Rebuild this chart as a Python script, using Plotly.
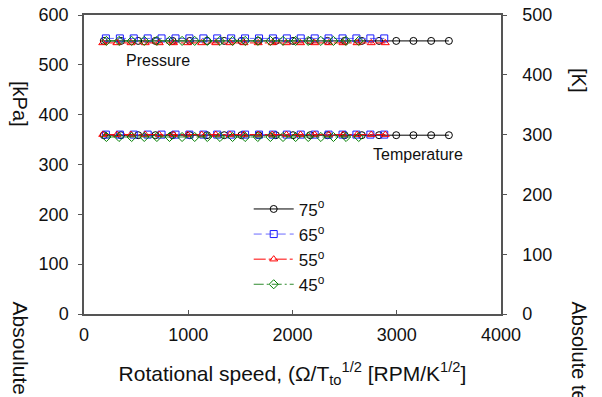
import plotly.graph_objects as go

# ---- data ----
labels = ["75<sup>o</sup>", "65<sup>o</sup>", "55<sup>o</sup>", "45<sup>o</sup>"]

speed_75 = [190, 355, 520, 685, 850, 1015, 1180, 1345, 1510, 1675, 1840,
            2005, 2170, 2335, 2500, 2665, 2830, 2995, 3160, 3330, 3500]
speed_65 = [210, 344, 477, 611, 744, 878, 1011, 1145, 1278, 1412, 1545,
            1679, 1812, 1946, 2079, 2213, 2346, 2480, 2613, 2747, 2880]
speed_55 = [180, 316, 451, 587, 722, 858, 993, 1129, 1264, 1400, 1535,
            1671, 1806, 1942, 2077, 2213, 2348, 2484, 2619, 2755, 2890]
speed_45 = [215, 336, 457, 578, 699, 820, 941, 1062, 1183, 1304, 1425,
            1546, 1667, 1788, 1909, 2030, 2151, 2272, 2393, 2514, 2635]

pressure_75 = [548, 548, 548, 548, 548, 548, 548, 548, 548, 548, 548,
               548, 548, 548, 548, 548, 548, 548, 548, 548, 548]
pressure_65 = [553, 553, 553, 553, 553, 553, 553, 553, 553, 553, 553,
               553, 553, 553, 553, 553, 553, 553, 553, 553, 553]
pressure_55 = [544, 544, 544, 544, 544, 544, 544, 544, 544, 544, 544,
               544, 544, 544, 544, 544, 544, 544, 544, 544, 544]
pressure_45 = [548, 548, 548, 548, 548, 548, 548, 548, 548, 548, 548,
               548, 548, 548, 548, 548, 548, 548, 548, 548, 548]

temperature_75 = [299, 299, 299, 299, 299, 299, 299, 299, 299, 299, 299,
                  299, 299, 299, 299, 299, 299, 299, 299, 299, 299]
temperature_65 = [300, 300, 300, 300, 300, 300, 300, 300, 300, 300, 300,
                  300, 300, 300, 300, 300, 300, 300, 300, 300, 300]
temperature_55 = [300, 300, 300, 300, 300, 300, 300, 300, 300, 300, 300,
                  300, 300, 300, 300, 300, 300, 300, 300, 300, 300]
temperature_45 = [296, 296, 296, 296, 296, 296, 296, 296, 296, 296, 296,
                  296, 296, 296, 296, 296, 296, 296, 296, 296, 296]

x_ticks = [0, 1000, 2000, 3000, 4000]
y_ticks = [0, 100, 200, 300, 400, 500, 600]
y2_ticks = [0, 100, 200, 300, 400, 500]

# ---- styles ----
FONT = "Liberation Sans, Arial, sans-serif"
styles = [
    dict(color="#000000", line_color="#000000", dash="solid", symbol="circle-open"),
    dict(color="#1a1aff", line_color="#6b6bff", dash="8px,4px", symbol="square-open"),
    dict(color="#ff0000", line_color="#ff0000", dash="12px,3px,3px,3px", symbol="triangle-up-open"),
    dict(color="#008000", line_color="#2e8b2e", dash="10px,3px,2px,3px", symbol="diamond-open"),
]

speeds = [speed_75, speed_65, speed_55, speed_45]
pressures = [pressure_75, pressure_65, pressure_55, pressure_45]
temps = [temperature_75, temperature_65, temperature_55, temperature_45]

fig = go.Figure()
for i in range(4):
    st = styles[i]
    fig.add_trace(go.Scatter(
        x=speeds[i], y=pressures[i], name=labels[i], showlegend=True, yaxis="y",
        mode="lines+markers",
        line=dict(color=st["line_color"], width=1, dash=st["dash"]),
        marker=dict(symbol=st["symbol"], size=7, color=st["color"],
                    line=dict(width=1, color=st["color"])),
        legendgroup=str(i)))
for i in range(4):
    st = styles[i]
    fig.add_trace(go.Scatter(
        x=speeds[i], y=temps[i], name=labels[i], showlegend=False, yaxis="y2",
        mode="lines+markers",
        line=dict(color=st["line_color"], width=1, dash=st["dash"]),
        marker=dict(symbol=st["symbol"], size=7, color=st["color"],
                    line=dict(width=1, color=st["color"])),
        legendgroup=str(i)))

axis_color = "#555555"
fig.update_layout(
    width=602, height=397,
    margin=dict(l=84, r=101, t=15, b=83, autoexpand=False),
    paper_bgcolor="white", plot_bgcolor="white",
    font=dict(family=FONT, size=18, color="#111111"),
    showlegend=True,
    legend=dict(x=0.395, y=0.41, xanchor="left", yanchor="top",
                bgcolor="rgba(0,0,0,0)", font=dict(size=17),
                tracegroupgap=0, itemwidth=40),
    xaxis=dict(range=[0, 4000], tickvals=x_ticks, ticks="inside", ticklen=4,
               tickcolor=axis_color, showline=True, linecolor=axis_color,
               linewidth=1.5, mirror=True, showgrid=False, zeroline=False,
               ticklabelstandoff=4, automargin=False,
               title=dict(text="Rotational speed, (Ω/T<sub>to</sub><sup>1/2</sup> [RPM/K<sup>1/2</sup>]",
                          font=dict(size=21), standoff=22)),
    yaxis=dict(range=[0, 600], tickvals=y_ticks, ticks="outside", ticklen=4,
               tickcolor=axis_color, showline=True, linecolor=axis_color,
               linewidth=1.5, showgrid=False, zeroline=False,
               ticklabelstandoff=6, automargin=False),
    yaxis2=dict(range=[0, 500], tickvals=y2_ticks, ticks="outside", ticklen=4,
                tickcolor=axis_color, showline=True, linecolor=axis_color,
                linewidth=1.5, showgrid=False, zeroline=False,
                overlaying="y", side="right", ticklabelstandoff=12,
                automargin=False),
)

W = 602 - 84 - 101
H = 397 - 15 - 83
def px(xp):
    return (xp - 84) / W
def py(yp):
    return (397 - 83 - yp) / H

fig.add_annotation(text="Pressure", x=px(158), y=py(60), xref="paper", yref="paper",
                   showarrow=False, font=dict(size=16), xanchor="center", yanchor="middle")
fig.add_annotation(text="Temperature", x=px(418), y=py(154), xref="paper", yref="paper",
                   showarrow=False, font=dict(size=16), xanchor="center", yanchor="middle")

# y-axis titles (partially clipped in the original)
fig.add_annotation(text="[kPa]", textangle=90, x=px(20), y=py(104),
                   xref="paper", yref="paper", showarrow=False,
                   font=dict(size=20), xanchor="center", yanchor="middle")
fig.add_annotation(text="Absoulute pressure", textangle=90, x=px(20), y=py(299),
                   xref="paper", yref="paper", showarrow=False,
                   font=dict(size=21), xanchor="center", yanchor="top")
fig.add_annotation(text="[K]", textangle=90, x=px(579), y=py(80),
                   xref="paper", yref="paper", showarrow=False,
                   font=dict(size=20), xanchor="center", yanchor="middle")
fig.add_annotation(text="Absolute temperature [K]", textangle=90, x=px(579), y=py(299),
                   xref="paper", yref="paper", showarrow=False,
                   font=dict(size=20), xanchor="center", yanchor="top")

fig.write_html("out.html")
